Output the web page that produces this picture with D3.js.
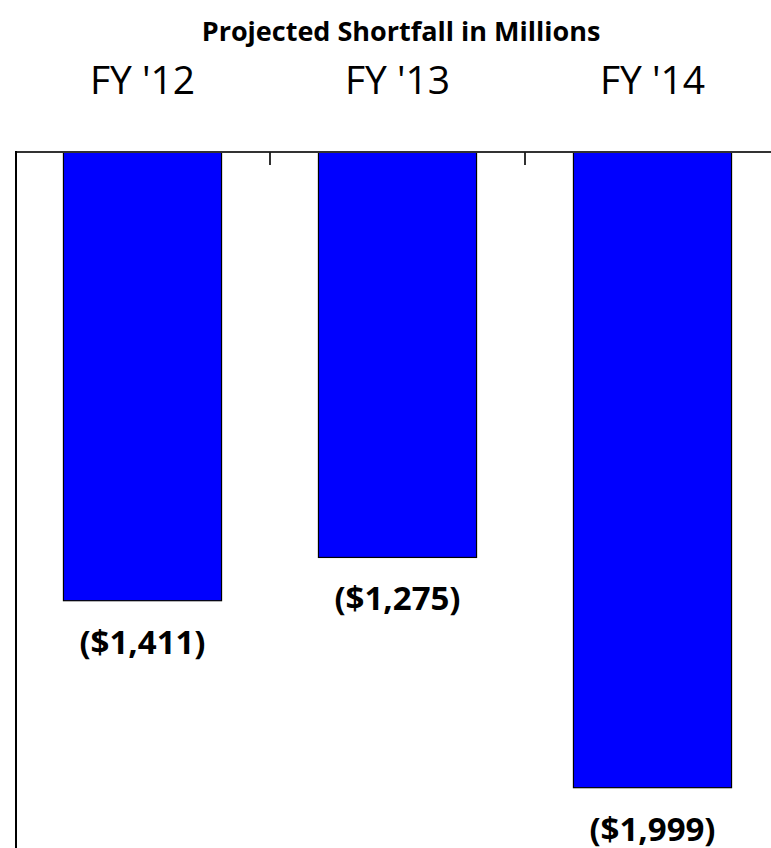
<!DOCTYPE html>
<html lang="en">
<head>
    <meta charset="UTF-8">
    <title>Projected Shortfall</title>
    <script src="https://d3js.org/d3.v7.min.js"></script>
</head>
<style>
html, body {
    margin: 0;
    padding: 0;
    background: #ffffff;
}

svg {
    display: block;
}

text {
    font-family: 'Open Sans', sans-serif;
    fill: #000000;
}

#title {
    font-size: 27px;
    font-weight: bold;
}

.cat-label {
    font-size: 39px;
}

.val-label {
    font-size: 33px;
    font-weight: bold;
}

.bar {
    fill: #0000ff;
    stroke: #000000;
    stroke-width: 1.2;
}
</style>
<body>
    <svg id='canvas'></svg>
</body>
<script>
let categories = ["FY '12", "FY '13", "FY '14"]
let shortfall = [-1411, -1275, -1999]
let valueLabels = ['($1,411)', '($1,275)', '($1,999)']

let width = 771
let height = 848
let axisY = 152

let svg = d3.select('svg')
    .attr('width', width)
    .attr('height', height)

let xScale = d3.scaleBand()
    .domain(categories)
    .range([15, 780])
    .paddingInner(0.38)
    .paddingOuter(0.19)

let yScale = d3.scaleLinear()
    .domain([0, -2000])
    .range([axisY, axisY + 636])

// title
svg.append('text')
    .attr('id', 'title')
    .attr('x', 401)
    .attr('y', 41)
    .attr('text-anchor', 'middle')
    .text('Projected Shortfall in Millions')

// category labels on top
svg.selectAll('.cat-label')
    .data(categories)
    .enter()
    .append('text')
    .attr('class', 'cat-label')
    .attr('x', (d) => xScale(d) + xScale.bandwidth() / 2)
    .attr('y', 94)
    .attr('text-anchor', 'middle')
    .text((d) => d)

// bars
svg.selectAll('.bar')
    .data(shortfall)
    .enter()
    .append('rect')
    .attr('class', 'bar')
    .attr('x', (d, i) => xScale(categories[i]))
    .attr('y', yScale(0))
    .attr('width', xScale.bandwidth())
    .attr('height', (d) => yScale(d) - yScale(0))

// value labels under bars
svg.selectAll('.val-label')
    .data(shortfall)
    .enter()
    .append('text')
    .attr('class', 'val-label')
    .attr('x', (d, i) => xScale(categories[i]) + xScale.bandwidth() / 2)
    .attr('y', (d) => yScale(d) + 53)
    .attr('text-anchor', 'middle')
    .text((d, i) => valueLabels[i])

// top axis line and ticks between categories
let r = xScale.range()
svg.append('line')
    .attr('x1', r[0])
    .attr('x2', r[1])
    .attr('y1', axisY)
    .attr('y2', axisY)
    .attr('stroke', '#333333')
    .attr('stroke-width', 2)

let tickPos = d3.range(1, categories.length).map((i) => r[0] + i * xScale.step())
svg.selectAll('.tick-mark')
    .data(tickPos)
    .enter()
    .append('line')
    .attr('class', 'tick-mark')
    .attr('x1', (d) => d)
    .attr('x2', (d) => d)
    .attr('y1', axisY)
    .attr('y2', axisY + 13)
    .attr('stroke', '#1a1a1a')
    .attr('stroke-width', 1.8)

// left vertical line
svg.append('line')
    .attr('x1', 16)
    .attr('x2', 16)
    .attr('y1', axisY - 1)
    .attr('y2', height)
    .attr('stroke', '#000000')
    .attr('stroke-width', 2)
</script>
</html>
